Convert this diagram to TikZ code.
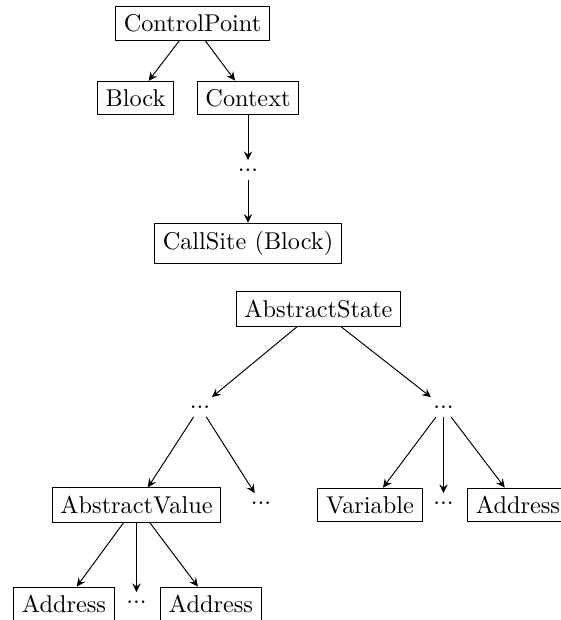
\documentclass[tikz,border=0pt]{standalone}
\usetikzlibrary{arrows.meta}
\begin{document}
\begin{tikzpicture}[x=0.4115pt,y=-0.4115pt,
  box/.style={draw,inner sep=3.33pt},
  dotsnode/.style={inner sep=3.33pt},
  arr/.style={-{Stealth[length=3.6pt,width=3.4pt,inset=1.3pt]}}]
\useasboundingbox (0,0) rectangle (561,620);
\node[box] (cp) at (192.5,23.5) {ControlPoint};
\node[box] (block) at (135.5,98) {Block};
\node[box] (ctx) at (248,98) {Context};
\node[dotsnode] (d1) at (248,170) {...};
\node[box] (cs) at (248,243.5) {CallSite (Block)};
\node[box] (as) at (318.5,309) {AbstractState};
\node[dotsnode] (d2) at (200,407) {...};
\node[dotsnode] (d3) at (443.5,407) {...};
\node[box] (av) at (136.5,505) {AbstractValue};
\node[dotsnode] (d4) at (261,503) {...};
\node[box] (var) at (370,505) {Variable};
\node[dotsnode] (d6) at (443.5,503) {...};
\node[box] (ad3) at (518,505) {Address};
\node[box] (ad1) at (64,604) {Address};
\node[dotsnode] (d5) at (136.5,602) {...};
\node[box] (ad2) at (211,604) {Address};
\draw[arr] (cp) -- (block);
\draw[arr] (cp) -- (ctx);
\draw[arr] (ctx) -- (d1);
\draw[arr] (d1) -- (cs);
\draw[arr] (as) -- (d2);
\draw[arr] (as) -- (d3);
\draw[arr] (d2) -- (av);
\draw[arr] (d2) -- (d4);
\draw[arr] (d3) -- (var);
\draw[arr] (d3) -- (d6);
\draw[arr] (d3) -- (ad3);
\draw[arr] (av) -- (ad1);
\draw[arr] (av) -- (d5);
\draw[arr] (av) -- (ad2);
\end{tikzpicture}
\end{document}
